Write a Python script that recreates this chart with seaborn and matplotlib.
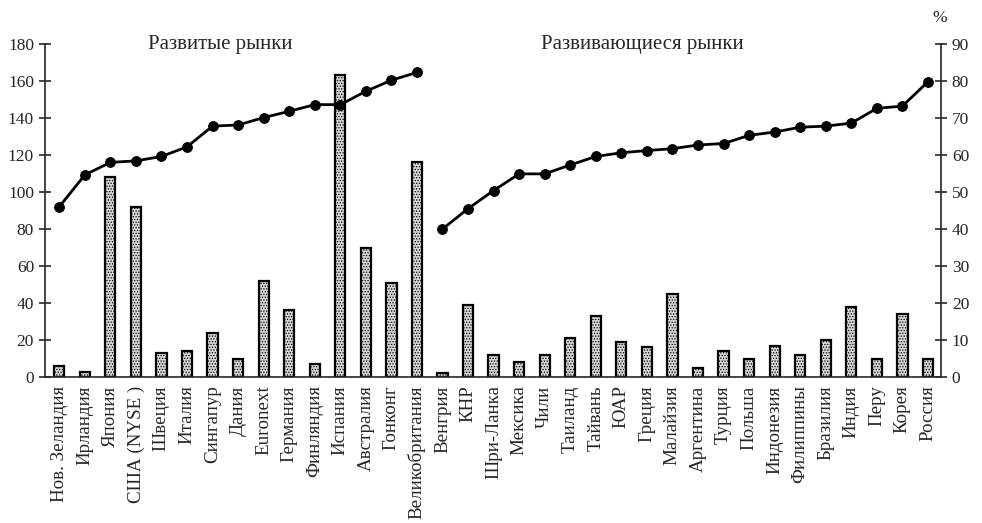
import numpy as np
import pandas as pd
import matplotlib
matplotlib.use("Agg")
import matplotlib.pyplot as plt
import seaborn as sns

# Developed markets
dev_names = ["Нов. Зеландия", "Ирландия", "Япония", "США (NYSE )", "Швеция", "Италия",
             "Сингапур", "Дания", "Euronext", "Германия", "Финляндия", "Испания",
             "Австралия", "Гонконг", "Великобритания"]
dev_bars = [6, 3, 108, 92, 13, 14, 24, 10, 52, 36, 7, 163, 70, 51, 116]
dev_pct = [46.0, 54.6, 58.0, 58.4, 59.6, 62.2, 67.8, 68.1, 70.1, 71.8, 73.6, 73.6,
           77.2, 80.2, 82.3]

# Emerging markets
em_names = ["Венгрия", "КНР", "Шри-Ланка", "Мексика", "Чили", "Таиланд", "Тайвань",
            "ЮАР", "Греция", "Малайзия", "Аргентина", "Турция", "Польша", "Индонезия",
            "Филиппины", "Бразилия", "Индия", "Перу", "Корея", "Россия"]
em_bars = [2, 39, 12, 8, 12, 21, 33, 19, 16, 45, 5, 14, 10, 17, 12, 20, 38, 10, 34, 10]
em_pct = [40.0, 45.5, 50.4, 54.9, 54.9, 57.3, 59.6, 60.6, 61.2, 61.7, 62.7, 63.1,
          65.3, 66.2, 67.5, 67.8, 68.6, 72.6, 73.2, 79.8]

names = dev_names + em_names
bars = dev_bars + em_bars
df = pd.DataFrame({"country": names, "value": bars})
df_dev = pd.DataFrame({"pos": np.arange(len(dev_names)), "pct": dev_pct})
df_em = pd.DataFrame({"pos": np.arange(len(em_names)) + len(dev_names), "pct": em_pct})

sns.set_style("ticks")
plt.rcParams["font.family"] = ["Liberation Serif", "DejaVu Serif"]
plt.rcParams["hatch.color"] = "#8a8a8a"
plt.rcParams["hatch.linewidth"] = 0.6

fig = plt.figure(figsize=(9.82, 5.23), dpi=100)
ax = fig.add_axes([0.046, 0.279, 0.912, 0.637])

sns.barplot(data=df, x="country", y="value", ax=ax, color="#d6d6d6", width=0.4,
            edgecolor="black", linewidth=1.6, saturation=1)
for p in ax.patches:
    p.set_hatch("......")

ax.set_xlim(-0.55, len(names) - 0.5)
ax.set_ylim(0, 180)
ax.set_yticks(range(0, 181, 20))
ax.set_xlabel("")
ax.set_ylabel("")
ax.tick_params(axis="y", direction="inout", length=8, width=1.2, labelsize=12.5, pad=4)
ax.tick_params(axis="x", length=0, labelsize=13.7, pad=6)
for lbl in ax.get_xticklabels():
    lbl.set_rotation(90)
ax.spines["top"].set_visible(False)
ax.spines["left"].set_linewidth(1.2)
ax.spines["bottom"].set_linewidth(1.2)
ax.spines["right"].set_visible(False)

ax2 = ax.twinx()
sns.lineplot(data=df_dev, x="pos", y="pct", ax=ax2, color="black", linewidth=2,
             marker="o", markersize=7, markeredgecolor="black")
sns.lineplot(data=df_em, x="pos", y="pct", ax=ax2, color="black", linewidth=2,
             marker="o", markersize=7, markeredgecolor="black")
ax2.set_ylim(0, 90)
ax2.set_yticks(range(0, 91, 10))
ax2.set_xlabel("")
ax2.set_ylabel("")
ax2.tick_params(axis="y", direction="inout", length=8, width=1.2, labelsize=12.5, pad=4)
ax2.spines["top"].set_visible(False)
ax2.spines["left"].set_visible(False)
ax2.spines["bottom"].set_visible(False)
ax2.spines["right"].set_linewidth(1.2)

fig.text(0.224, 0.914, "Развитые рынки", fontsize=15, ha="center", va="center")
fig.text(0.654, 0.914, "Развивающиеся рынки", fontsize=15, ha="center", va="center")
fig.text(0.957, 0.966, "%", fontsize=12.5, ha="center", va="center")

fig.savefig("out.png", dpi=100)
